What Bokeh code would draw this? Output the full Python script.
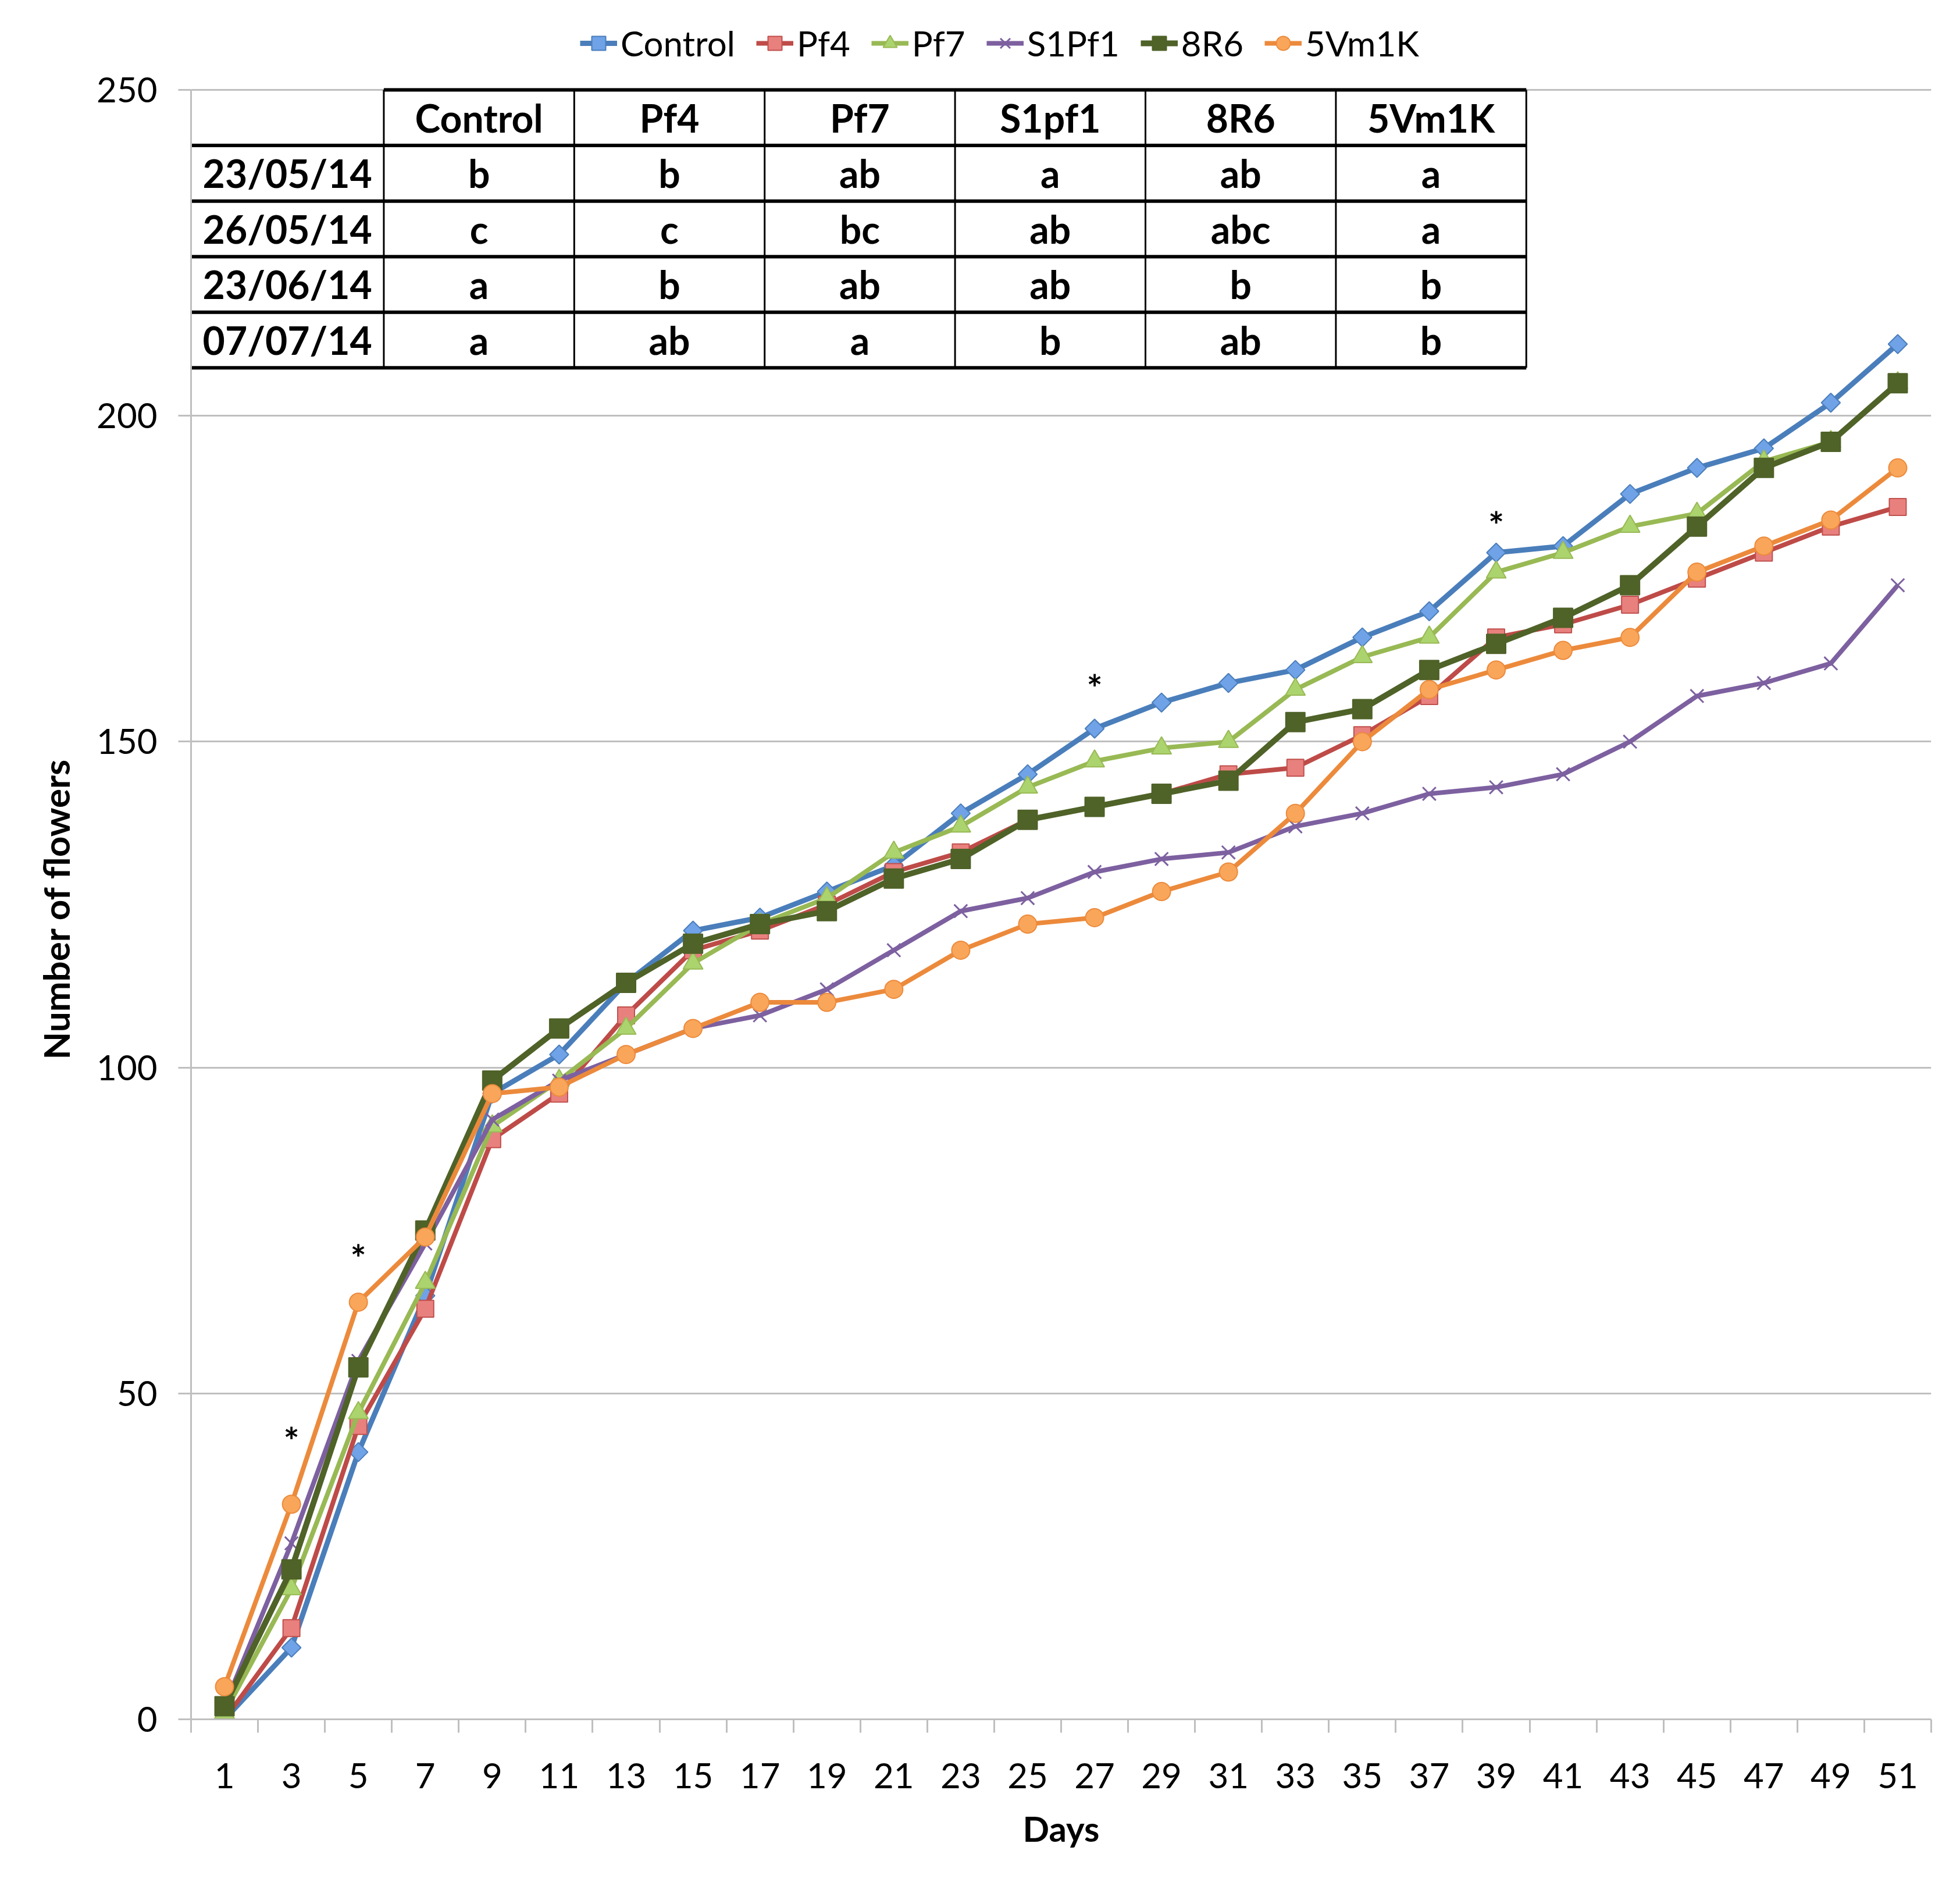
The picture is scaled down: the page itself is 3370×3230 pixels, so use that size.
import math
from bokeh.plotting import figure
from bokeh.models import Range1d, FixedTicker, Legend, LegendItem, Title
from bokeh.core.properties import value
from bokeh.embed import file_html
from bokeh.resources import INLINE

# ---------------- data ----------------
days = list(range(1, 52, 2))
control = [0, 11, 41, 65, 96, 102, 113, 121, 123, 127, 131, 139, 145, 152, 156, 159, 161, 166, 170, 179, 180, 188, 192, 195, 202, 211]
pf4 = [0, 14, 45, 63, 89, 96, 108, 118, 121, 125, 130, 133, 138, 140, 142, 145, 146, 151, 157, 166, 168, 171, 175, 179, 183, 186]
pf7 = [1, 20, 47, 67, 91, 98, 106, 116, 122, 126, 133, 137, 143, 147, 149, 150, 158, 163, 166, 176, 179, 183, 185, 193, 196, 205]
s1pf1 = [2, 27, 55, 73, 92, 98, 102, 106, 108, 112, 118, 124, 126, 130, 132, 133, 137, 139, 142, 143, 145, 150, 157, 159, 162, 174]
r8r6 = [2, 23, 54, 75, 98, 106, 113, 119, 122, 124, 129, 132, 138, 140, 142, 144, 153, 155, 161, 165, 169, 174, 183, 192, 196, 205]
v5m1k = [5, 33, 64, 74, 96, 97, 102, 106, 110, 110, 112, 118, 122, 123, 127, 130, 139, 150, 158, 161, 164, 166, 176, 180, 184, 192]

series_names = ["Control", "Pf4", "Pf7", "S1Pf1", "8R6", "5Vm1K"]
series_values = [control, pf4, pf7, s1pf1, r8r6, v5m1k]

star_days = [3, 5, 27, 39]
star_values = [44, 72, 159.5, 184.5]

table_header = ["Control", "Pf4", "Pf7", "S1pf1", "8R6", "5Vm1K"]
table_dates = ["23/05/14", "26/05/14", "23/06/14", "07/07/14"]
table_letters = [
    ["b", "b", "ab", "a", "ab", "a"],
    ["c", "c", "bc", "ab", "abc", "a"],
    ["a", "b", "ab", "ab", "b", "b"],
    ["a", "ab", "a", "b", "ab", "b"],
]

y_ticks = [0, 50, 100, 150, 200, 250]
Y_MAX = 250

# ---------------- styles ----------------
styles = {
    "Control": dict(line="#4a7ebb", marker="square", angle=math.pi / 4, fill="#6fa2e6", edge="#4a7ebb", size=23, lw=9),
    "Pf4": dict(line="#be4b48", marker="square", angle=0, fill="#e8817e", edge="#c0504d", size=29, lw=8),
    "Pf7": dict(line="#98b954", marker="triangle", angle=0, fill="#acd46e", edge="#98b954", size=34, lw=8),
    "S1Pf1": dict(line="#7d60a0", marker="x", angle=0, fill="#7d60a0", edge="#7d60a0", size=32, lw=8),
    "8R6": dict(line="#4f6228", marker="square", angle=0, fill="#4f6228", edge="#4f6228", size=33, lw=10),
    "5Vm1K": dict(line="#ec8a3c", marker="circle", angle=0, fill="#f9a65a", edge="#ec8a3c", size=31, lw=8),
}

FONT = "Lato"
W, H = 3354, 3214
PX_PER_UNIT = 2801 / 250.0
TOP_BORDER = 20
EXTRA_TOP_PX = 154 - TOP_BORDER
y_end = Y_MAX + EXTRA_TOP_PX / PX_PER_UNIT
frame_h = H - TOP_BORDER - 259

p = figure(width=W, height=H, output_backend="svg", toolbar_location=None,
           x_range=Range1d(0, 52), y_range=Range1d(0, y_end),
           min_border_left=328, min_border_right=34, min_border_top=TOP_BORDER, min_border_bottom=259)
p.outline_line_color = None
p.background_fill_color = "white"

# axes
p.xaxis.ticker = FixedTicker(ticks=days, minor_ticks=list(range(0, 53, 2)))
p.xaxis.major_tick_out = 0
p.xaxis.major_tick_in = 0
p.xaxis.minor_tick_out = 23
p.xaxis.minor_tick_in = 0
p.xaxis.minor_tick_line_color = "#bfbfbf"
p.xaxis.minor_tick_line_width = 3
p.xaxis.axis_line_color = "#bfbfbf"
p.xaxis.axis_line_width = 3
p.xaxis.major_label_standoff = 52
p.xaxis.axis_label = "Days"
p.xaxis.axis_label_standoff = 30

p.yaxis.ticker = FixedTicker(ticks=y_ticks, minor_ticks=[])
p.yaxis.bounds = (0, Y_MAX)
p.yaxis.major_tick_out = 22
p.yaxis.major_tick_in = 0
p.yaxis.major_tick_line_color = "#bfbfbf"
p.yaxis.major_tick_line_width = 3
p.yaxis.axis_line_color = "#bfbfbf"
p.yaxis.axis_line_width = 3
p.yaxis.major_label_standoff = 36

for ax in (p.xaxis[0], p.yaxis[0]):
    ax.major_label_text_font = FONT
    ax.major_label_text_font_size = "60px"
    ax.major_label_text_color = "black"
    ax.axis_label_text_font = FONT
    ax.axis_label_text_font_size = "60px"
    ax.axis_label_text_font_style = "bold"
    ax.axis_label_text_color = "black"

# y axis title as a left-side Title, placed on the 0..250 part of the frame
ytitle = Title(text="Number of flowers", align="left", offset=1134, standoff=61,
               text_font=FONT, text_font_size="62px", text_font_style="bold", text_color="black")
p.add_layout(ytitle, "left")

p.xgrid.grid_line_color = None
p.ygrid.ticker = FixedTicker(ticks=y_ticks)
p.ygrid.grid_line_color = "#bfbfbf"
p.ygrid.grid_line_width = 3

# series
items = []
for name, vals in zip(series_names, series_values):
    st = styles[name]
    lr = p.line(days, vals, line_color=st["line"], line_width=st["lw"], line_join="round")
    if st["marker"] == "x":
        sr = p.scatter(days, vals, marker="x", size=st["size"], line_color=st["edge"], line_width=3)
    else:
        sr = p.scatter(days, vals, marker=st["marker"], size=st["size"], angle=st["angle"],
                       fill_color=st["fill"], line_color=st["edge"], line_width=2)
    items.append(LegendItem(label=name, renderers=[lr, sr]))

# asterisks
p.text(star_days, star_values, text=["*"] * len(star_days), text_font=value(FONT),
       text_font_style="bold", text_font_size="64px", text_align="center",
       text_baseline="middle", y_offset=14, text_color="black")

# ---------------- table ----------------
T_TOP = Y_MAX
ROW_H = 8.53
FIRST_W = 5.76
COL_W = 5.69
n_rows = len(table_dates) + 1
n_cols = len(table_header)
col_edges = [0, FIRST_W] + [FIRST_W + COL_W * (i + 1) for i in range(n_cols)]
row_edges = [T_TOP - ROW_H * i for i in range(n_rows + 1)]
right = col_edges[-1]
bottom = row_edges[-1]

p.quad(left=[col_edges[1]], right=[right], top=[row_edges[0]], bottom=[row_edges[1]],
       fill_color="white", line_color=None)
p.quad(left=[col_edges[0]], right=[right], top=[row_edges[1]], bottom=[bottom],
       fill_color="white", line_color=None)

hx0, hx1, hy = [], [], []
for i, ry in enumerate(row_edges):
    hx0.append(col_edges[1] if i == 0 else col_edges[0])
    hx1.append(right)
    hy.append(ry)
p.segment(x0=hx0, y0=hy, x1=hx1, y1=hy, line_color="black", line_width=6)
vx, vy0, vy1 = [], [], []
for j, cx in enumerate(col_edges):
    vx.append(cx)
    vy0.append(row_edges[1] if j == 0 else row_edges[0])
    vy1.append(bottom)
p.segment(x0=vx, y0=vy0, x1=vx, y1=vy1, line_color="black", line_width=3)

tx, ty, tt = [], [], []
for j, h in enumerate(table_header):
    tx.append((col_edges[j + 1] + col_edges[j + 2]) / 2)
    ty.append((row_edges[0] + row_edges[1]) / 2)
    tt.append(h)
for i, d in enumerate(table_dates):
    yc = (row_edges[i + 1] + row_edges[i + 2]) / 2
    tx.append((col_edges[0] + col_edges[1]) / 2)
    ty.append(yc)
    tt.append(d)
    for j, letter in enumerate(table_letters[i]):
        tx.append((col_edges[j + 1] + col_edges[j + 2]) / 2)
        ty.append(yc)
        tt.append(letter)
p.text(tx, ty, text=tt, text_font=value(FONT), text_font_style="bold", text_font_size="66px",
       text_align="center", text_baseline="middle", text_color="black")

# legend inside the extended frame, above the 250 line
legend = Legend(items=items, orientation="horizontal", location=(669, frame_h - 90),
                label_text_font=FONT, label_text_font_size="60px", label_text_color="black",
                glyph_width=64, glyph_height=60, label_standoff=6, spacing=36,
                padding=0, margin=0, border_line_color=None, background_fill_alpha=0)
p.add_layout(legend)

open("out.html", "w").write(file_html(p, INLINE))
